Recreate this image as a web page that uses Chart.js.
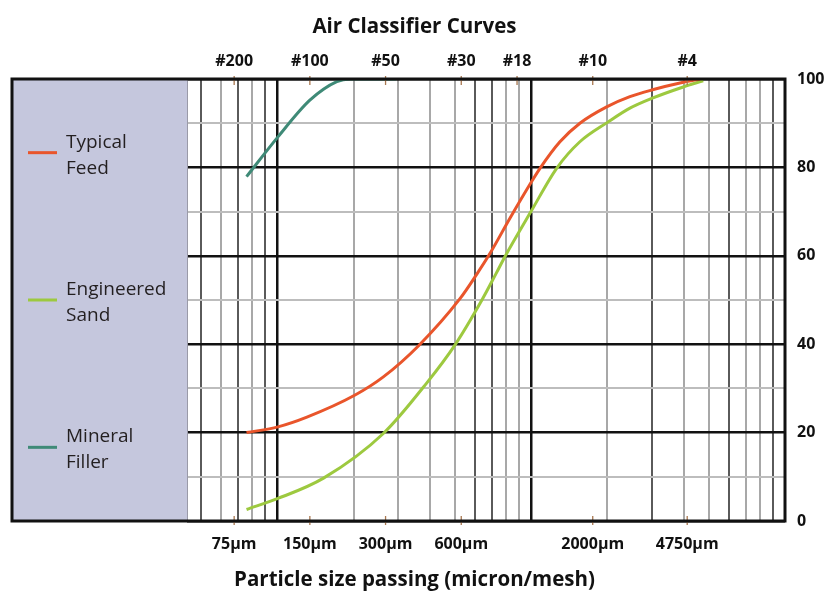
<!DOCTYPE html>
<html>
<head>
<meta charset="utf-8">
<script src="https://cdn.jsdelivr.net/npm/chart.js@4.4.1/dist/chart.umd.min.js"></script>
<style>
html,body{margin:0;padding:0;background:#fff;}
#wrap{width:829px;height:593px;}
</style>
</head>
<body>
<div id="wrap"><canvas id="c" width="829" height="593"></canvas></div>
<script>
// ---- data (particle size in µm, % passing) ----
const seriesNames = ['Typical Feed', 'Engineered Sand', 'Mineral Filler'];
const feedSize    = [84, 112, 146, 227, 294, 405, 593, 691, 780, 937, 1143, 1234, 1481, 1778, 2272, 2811, 3429, 4581, 5350];
const feedPassing = [20, 21.3, 23.5, 28.5, 32.6, 39.6, 50.3, 55.8, 60.5, 68.5, 76.8, 79.8, 85.8, 90, 93.7, 96, 97.5, 99.25, 100];
const sandSize    = [84, 112, 170, 294, 437, 566, 725, 829, 895, 1136, 1437, 1778, 2305, 2811, 3429, 4581, 5500];
const sandPassing = [2.6, 5.1, 9.7, 19.8, 31.2, 39.8, 50, 56.2, 59.8, 70, 79.8, 85.8, 90.3, 93.4, 95.6, 98.2, 99.6];
const fillerSize    = [84, 112, 150, 192, 217, 330];
const fillerPassing = [77.9, 86.9, 95.2, 99.4, 100, 100];

// ---- tick labels ----
const micronTicks  = [75, 150, 300, 600, 2000, 4750];
const micronLabels = ['75µm', '150µm', '300µm', '600µm', '2000µm', '4750µm'];
const meshTicks    = [75, 150, 300, 600, 1000, 2000, 4750];
const meshLabels   = ['#200', '#100', '#50', '#30', '#18', '#10', '#4'];
const passingTicks = [0, 10, 20, 30, 40, 50, 60, 70, 80, 90, 100];
const passingLabels = ['0', '', '20', '', '40', '', '60', '', '80', '', '100'];
// log graph-paper grid lines
const gridValues = [50, 60, 70, 80, 90, 100, 200, 300, 400, 500, 600, 700, 800, 900,
                    1000, 2000, 3000, 4000, 5000, 6000, 7000, 8000, 9000];
const gridDark   = [50, 70, 90, 600, 700, 3000, 6000, 9000];
const gridMajor  = [100, 1000];

const colors = ['#e9552b', '#9dc93f', '#3f8a77'];
const FONT = '"Open Sans", "Noto Sans", sans-serif';

const pts = (xs, ys) => xs.map((x, i) => ({x: x, y: ys[i]}));

const framePlugin = {
  id: 'frame',
  beforeDraw(chart) {
    const {ctx, chartArea: a} = chart;
    ctx.save();
    ctx.fillStyle = '#fff';
    ctx.fillRect(0, 0, chart.width, chart.height);
    ctx.fillStyle = '#c5c7dd';
    ctx.fillRect(12, a.top, a.left - 12, a.bottom - a.top);
    ctx.restore();
  },
  afterDatasetsDraw(chart) {
    const {ctx, chartArea: a} = chart;
    ctx.save();
    // small tick marks at label positions
    ctx.strokeStyle = '#a9774f';
    ctx.lineWidth = 1.3;
    const xs = chart.scales.x;
    micronTicks.forEach(v => {
      const px = xs.getPixelForValue(v);
      ctx.beginPath(); ctx.moveTo(px, a.bottom - 5); ctx.lineTo(px, a.bottom + 4); ctx.stroke();
    });
    meshTicks.forEach(v => {
      const px = xs.getPixelForValue(v);
      ctx.beginPath(); ctx.moveTo(px, a.top - 3); ctx.lineTo(px, a.top + 6); ctx.stroke();
    });
    // separator between legend panel and plot
    ctx.strokeStyle = '#9a9aa8';
    ctx.lineWidth = 1;
    ctx.beginPath(); ctx.moveTo(a.left + 0.5, a.top); ctx.lineTo(a.left + 0.5, a.bottom); ctx.stroke();
    // outer frame
    ctx.strokeStyle = '#111';
    ctx.lineWidth = 3;
    ctx.strokeRect(12, a.top, a.right - 12, a.bottom - a.top);
    // legend
    chart.data.datasets.forEach((ds, i) => {
      const cy = a.top + (a.bottom - a.top) * (2 * i + 1) / 6;
      ctx.strokeStyle = ds.borderColor;
      ctx.lineWidth = 3;
      ctx.beginPath(); ctx.moveTo(28, cy); ctx.lineTo(57, cy); ctx.stroke();
      const words = ds.label.split(' ');
      ctx.font = '19px ' + FONT;
      ctx.fillStyle = '#231f20';
      ctx.textAlign = 'left';
      ctx.textBaseline = 'alphabetic';
      ctx.fillText(words[0], 66, cy - 5);
      ctx.fillText(words.slice(1).join(' '), 66, cy + 21);
    });
    ctx.restore();
  }
};

const tickFont = {family: FONT, size: 16, weight: 'bold'};

new Chart(document.getElementById('c'), {
  type: 'line',
  data: {
    datasets: [
      {label: seriesNames[0], data: pts(feedSize, feedPassing), borderColor: colors[0]},
      {label: seriesNames[1], data: pts(sandSize, sandPassing), borderColor: colors[1]},
      {label: seriesNames[2], data: pts(fillerSize, fillerPassing), borderColor: colors[2]}
    ].map(d => Object.assign(d, {
      borderWidth: 3, pointRadius: 0, cubicInterpolationMode: 'monotone',
      fill: false, xAxisID: 'x', yAxisID: 'y'
    }))
  },
  options: {
    responsive: false,
    animation: false,
    devicePixelRatio: 1,
    layout: {padding: 0},
    plugins: {
      legend: {display: false},
      tooltip: {enabled: false},
      title: {
        display: true, text: 'Air Classifier Curves', color: '#111',
        font: {family: FONT, size: 20.5, weight: 'bold'},
        padding: {top: 14.7, bottom: 3}
      },
      subtitle: {
        display: true, position: 'bottom', text: 'Particle size passing (micron/mesh)', color: '#111',
        font: {family: FONT, size: 20.5, weight: 'bold'},
        padding: {top: 3, bottom: 0.7}
      }
    },
    scales: {
      x: {
        type: 'logarithmic', position: 'bottom', min: 48.7, max: 11630,
        afterBuildTicks: s => { s.ticks = micronTicks.map(v => ({value: v})); },
        afterFit: s => { s.height = 43.7; },
        grid: {display: false, drawTicks: false},
        border: {display: false},
        ticks: {
          autoSkip: false, maxRotation: 0, padding: 14, color: '#111', font: tickFont,
          callback: v => micronLabels[micronTicks.indexOf(v)]
        }
      },
      xTop: {
        type: 'logarithmic', position: 'top', min: 48.7, max: 11630,
        afterBuildTicks: s => { s.ticks = meshTicks.map(v => ({value: v})); },
        afterFit: s => { s.height = 36.7; },
        grid: {display: false, drawTicks: false},
        border: {display: false},
        ticks: {
          autoSkip: false, maxRotation: 0, padding: 7.5, color: '#111', font: tickFont,
          callback: v => meshLabels[meshTicks.indexOf(v)]
        }
      },
      xGrid: {
        type: 'logarithmic', position: 'bottom', min: 44.2, max: 10000,
        afterBuildTicks: s => { s.ticks = gridValues.map(v => ({value: v})); },
        afterFit: s => { s.height = 0; },
        border: {display: false},
        ticks: {display: false},
        grid: {
          drawTicks: false,
          color: c => gridMajor.includes(c.tick.value) ? '#111' : (gridDark.includes(c.tick.value) ? '#5a5a5a' : '#a8a8a8'),
          lineWidth: c => gridMajor.includes(c.tick.value) ? 2.5 : 2
        }
      },
      yLeft: {
        type: 'linear', position: 'left', min: 0, max: 100,
        afterFit: s => { s.width = 187; },
        grid: {display: false, drawTicks: false},
        border: {display: false},
        ticks: {display: false}
      },
      y: {
        type: 'linear', position: 'right', min: 0, max: 100,
        afterBuildTicks: s => { s.ticks = passingTicks.map(v => ({value: v})); },
        afterFit: s => { s.width = 44; },
        border: {display: false},
        ticks: {
          padding: 12, color: '#111', font: tickFont,
          callback: v => passingLabels[passingTicks.indexOf(v)]
        },
        grid: {
          drawTicks: false,
          color: c => (c.tick.value % 20 === 0) ? '#111' : '#bdbdbd',
          lineWidth: c => (c.tick.value % 20 === 0) ? 2.5 : 2
        }
      }
    }
  },
  plugins: [framePlugin]
});
</script>
</body>
</html>
